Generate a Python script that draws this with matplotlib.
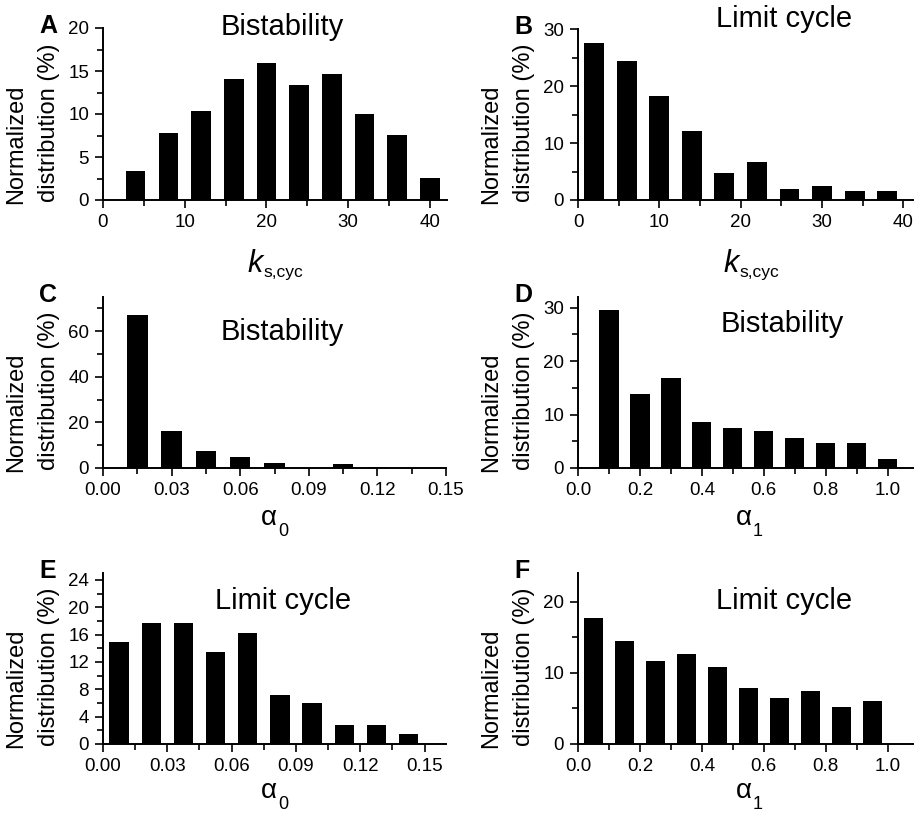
import matplotlib
matplotlib.use("Agg")
import matplotlib.pyplot as plt
from matplotlib.ticker import MultipleLocator, FormatStrFormatter

plt.rcParams['font.family'] = ['Liberation Sans', 'DejaVu Sans']

# Bin centres and normalized distribution (%) for each panel
ks_bins_a = [4, 8, 12, 16, 20, 24, 28, 32, 36, 40]
ks_bist = [3.4, 7.8, 10.3, 14.1, 15.9, 13.4, 14.7, 10.0, 7.6, 2.6]

ks_bins_b = [2, 6, 10, 14, 18, 22, 26, 30, 34, 38]
ks_lc = [27.5, 24.3, 18.2, 12.1, 4.7, 6.6, 1.9, 2.4, 1.5, 1.5]

a0_bins_c = [0.015, 0.03, 0.045, 0.06, 0.075, 0.09, 0.105, 0.12]
a0_bist = [67.0, 16.3, 7.3, 4.8, 2.3, 0.0, 1.9, 0.6]

a1_bins_d = [0.1, 0.2, 0.3, 0.4, 0.5, 0.6, 0.7, 0.8, 0.9, 1.0]
a1_bist = [29.5, 13.9, 16.8, 8.7, 7.5, 7.0, 5.7, 4.7, 4.7, 1.7]

a0_bins_e = [0.0075, 0.0225, 0.0375, 0.0525, 0.0675, 0.0825, 0.0975, 0.1125, 0.1275, 0.1425]
a0_lc = [14.9, 17.7, 17.7, 13.5, 16.2, 7.1, 6.0, 2.8, 2.8, 1.4]

a1_bins_f = [0.05, 0.15, 0.25, 0.35, 0.45, 0.55, 0.65, 0.75, 0.85, 0.95]
a1_lc = [17.7, 14.4, 11.6, 12.6, 10.8, 7.9, 6.5, 7.5, 5.2, 6.1]

W, H = 914, 814
fig = plt.figure(figsize=(W / 100, H / 100), dpi=100)


def px(x, y):
    # pixel position (from top-left) -> figure fraction
    return x / W, 1 - y / H


# panel: letter, title, bins, values, bar width, box (l, t, r, b in px), xlim, ylim,
# x major/minor, y major/minor, x format, label symbol, subscript,
# symbol right edge / baseline, title baseline (x, y)
panels = [
    ('A', 'Bistability', ks_bins_a, ks_bist, 2.4, (103, 28, 447, 200), 42.1, 20,
     10, 5, 5, 2.5, '%d', 'k', 's,cyc', (263, 272), (282, 35)),
    ('B', 'Limit cycle', ks_bins_b, ks_lc, 2.45, (578, 29, 914, 200), 41.3, 30,
     10, 5, 10, 5, '%d', 'k', 's,cyc', (739, 272), (784, 27)),
    ('C', 'Bistability', a0_bins_c, a0_bist, 0.009, (103, 297, 446, 468), 0.15, 75,
     0.03, 0.015, 20, 10, '%.2f', '\u03b1', '0', (277, 525), (282, 340)),
    ('D', 'Bistability', a1_bins_d, a1_bist, 0.062, (578, 297, 914, 468), 1.085, 32,
     0.2, 0.1, 10, 5, '%.1f', '\u03b1', '1', (752, 525), (782, 332)),
    ('E', 'Limit cycle', a0_bins_e, a0_lc, 0.009, (103, 573, 446, 744), 0.16, 25,
     0.03, 0.015, 4, 2, '%.2f', '\u03b1', '0', (277, 798), (283, 609)),
    ('F', 'Limit cycle', a1_bins_f, a1_lc, 0.062, (578, 573, 914, 744), 1.085, 24,
     0.2, 0.1, 10, 5, '%.1f', '\u03b1', '1', (752, 798), (784, 609)),
]

for (letter, title, bins, vals, bw, box, xmax, ymax,
     xmaj, xmin, ymaj, ymin, xfmt, sym, sub, lpos, tpos) in panels:
    l, t, r, b = box
    ax = fig.add_axes([l / W, 1 - b / H, (r - l) / W, (b - t) / H])
    ax.bar(bins, vals, width=bw, color='black', edgecolor='none', zorder=2)
    ax.set_xlim(0, xmax)
    ax.set_ylim(0, ymax)

    ax.xaxis.set_major_locator(MultipleLocator(xmaj))
    ax.xaxis.set_minor_locator(MultipleLocator(xmin))
    ax.yaxis.set_major_locator(MultipleLocator(ymaj))
    ax.yaxis.set_minor_locator(MultipleLocator(ymin))
    ax.xaxis.set_major_formatter(FormatStrFormatter(xfmt))

    for s in ['top', 'right']:
        ax.spines[s].set_visible(False)
    for s in ['left', 'bottom']:
        ax.spines[s].set_linewidth(1.4)
    ax.tick_params(which='major', length=6, width=1.2, labelsize=13.5, pad=4)
    ax.tick_params(which='minor', length=4, width=1.2)

    # x label: symbol plus subscript
    if sym == 'k':
        fig.text(*px(lpos[0], lpos[1]), sym, fontsize=22, style='italic',
                 ha='right', va='baseline')
        fig.text(*px(lpos[0], lpos[1] + 5), sub, fontsize=12.5,
                 ha='left', va='baseline')
    else:
        fig.text(*px(lpos[0], lpos[1]), sym, fontsize=20,
                 ha='right', va='baseline')
        fig.text(*px(lpos[0] + 1, lpos[1] + 11), sub, fontsize=13,
                 ha='left', va='baseline')

    # two-line y label, placed like the original
    fig.text(*px(l - 87, b - 56), 'Normalized', rotation=90,
             ha='center', va='center', fontsize=17)
    fig.text(*px(l - 54, b - 77), 'distribution (%)', rotation=90,
             ha='center', va='center', fontsize=17)

    fig.text(*px(l - 64, t + 5), letter, fontsize=18, fontweight='bold',
             ha='left', va='baseline')
    fig.text(*px(*tpos), title, fontsize=21, ha='center', va='baseline')

fig.savefig('out.png', dpi=100)
